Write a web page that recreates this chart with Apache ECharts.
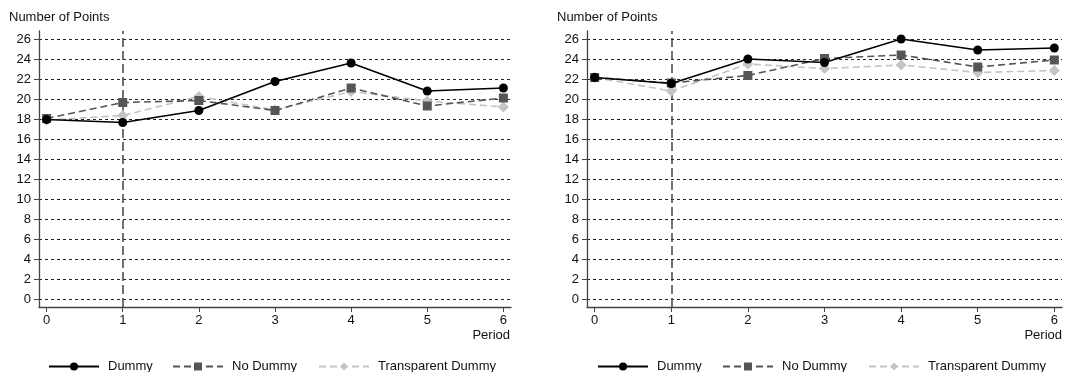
<!DOCTYPE html>
<html>
<head>
<meta charset="utf-8">
<script src="https://cdn.jsdelivr.net/npm/echarts@6/dist/echarts.min.js"></script>
<style>
html,body{margin:0;padding:0;background:#fff;}
#c{width:1076px;height:372px;}
</style>
</head>
<body>
<div id="c"></div>
<script>
var periods = [0, 1, 2, 3, 4, 5, 6];
var yTicks = [0, 2, 4, 6, 8, 10, 12, 14, 16, 18, 20, 22, 24, 26];
var seriesNames = ['Dummy', 'No Dummy', 'Transparent Dummy'];

var leftDummy = [18.0, 17.7, 18.9, 21.8, 23.65, 20.85, 21.15];
var leftNoDummy = [18.1, 19.7, 19.9, 18.9, 21.15, 19.35, 20.15];
var leftTransparent = [17.95, 18.4, 20.3, 18.95, 20.8, 19.85, 19.25];

var rightDummy = [22.2, 21.6, 24.05, 23.7, 26.05, 24.95, 25.15];
var rightNoDummy = [22.2, 21.65, 22.4, 24.1, 24.45, 23.25, 23.95];
var rightTransparent = [22.2, 20.85, 23.55, 23.1, 23.45, 22.7, 22.9];

var marker = 1;

var FONT = "'Liberation Sans', Arial, sans-serif";
var FS = 13;
var chart = echarts.init(document.getElementById('c'), null, {renderer: 'canvas'});

function pts(vals) { return periods.map(function (p, i) { return [p, vals[i]]; }); }

var styles = [
  {color: '#000000', type: 'solid', symbol: 'circle', size: 9},
  {color: '#555555', type: [7, 4], symbol: 'rect', size: 9},
  {color: '#c4c4c4', type: [7, 4], symbol: 'diamond', size: 11}
];

function mkSeries(gi, vals) {
  return vals.map(function (v, k) {
    var s = styles[k];
    var ser = {
      name: seriesNames[k], type: 'line', xAxisIndex: gi, yAxisIndex: gi,
      data: pts(v), symbol: s.symbol, symbolSize: s.size, z: 10 - k,
      lineStyle: {color: s.color, width: 1.6, type: s.type},
      itemStyle: {color: s.color},
      emphasis: {disabled: true}, animation: false
    };
    if (k === 0) {
      ser.markLine = {
        silent: true, symbol: 'none', label: {show: false}, animation: false,
        lineStyle: {color: '#444', width: 1.5, type: [9, 4]},
        data: [{xAxis: marker}]
      };
    }
    return ser;
  });
}

function xAx(gi) {
  return {
    type: 'value', gridIndex: gi, min: -0.1, max: 6.1,
    axisLine: {show: true, onZero: false, lineStyle: {color: '#444', width: 1.3}},
    axisTick: {show: true, length: 5, customValues: periods, lineStyle: {color: '#444'}},
    axisLabel: {customValues: periods, color: '#111', fontFamily: FONT, fontSize: FS, margin: 7},
    splitLine: {show: false}
  };
}
function yAx(gi) {
  return {
    type: 'value', gridIndex: gi, min: -0.75, max: 26.85,
    axisLine: {show: true, onZero: false, lineStyle: {color: '#444', width: 1.3}},
    axisTick: {show: true, length: 5, customValues: yTicks, lineStyle: {color: '#444'}},
    axisLabel: {customValues: yTicks, color: '#111', fontFamily: FONT, fontSize: FS, margin: 8},
    splitLine: {show: true, lineStyle: {color: '#222', width: 1, type: [3, 3]}}
  };
}

function leg(name, left) {
  return {
    data: [name], left: left, top: 360, padding: 0, itemWidth: 50, itemHeight: 10,
    itemGap: 0, selectedMode: false,
    textStyle: {color: '#111', fontFamily: FONT, fontSize: FS, padding: [0, 0, 0, 4]}
  };
}

function ttl(text, pos) {
  var t = {text: text, top: pos.top, padding: 0,
    textStyle: {fontSize: FS, fontWeight: 'normal', color: '#111', fontFamily: FONT}};
  if (pos.left !== undefined) t.left = pos.left;
  if (pos.right !== undefined) t.right = pos.right;
  return t;
}

var option = {
  animation: false,
  backgroundColor: '#ffffff',
  textStyle: {fontFamily: FONT},
  title: [
    ttl('Number of Points', {left: 9, top: 11}),
    ttl('Number of Points', {left: 557, top: 11}),
    ttl('Period', {right: 1076 - 510, top: 329}),
    ttl('Period', {right: 1076 - 1062, top: 329})
  ],
  grid: [
    {left: 39, top: 31, width: 472, height: 276},
    {left: 587, top: 31, width: 475, height: 276}
  ],
  xAxis: [xAx(0), xAx(1)],
  yAxis: [yAx(0), yAx(1)],
  legend: [
    leg('Dummy', 48), leg('No Dummy', 172), leg('Transparent Dummy', 318),
    leg('Dummy', 597), leg('No Dummy', 722), leg('Transparent Dummy', 868)
  ],
  series: mkSeries(0, [leftDummy, leftNoDummy, leftTransparent])
    .concat(mkSeries(1, [rightDummy, rightNoDummy, rightTransparent]))
};
chart.setOption(option);
</script>
</body>
</html>
